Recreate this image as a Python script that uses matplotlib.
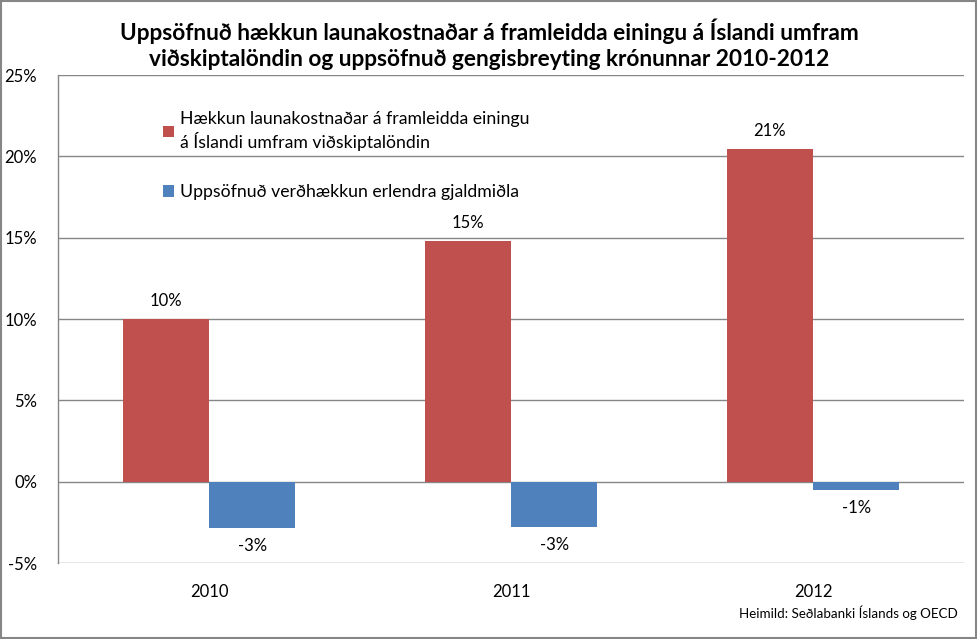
import matplotlib
matplotlib.use("Agg")
import matplotlib.pyplot as plt
from matplotlib.patches import Rectangle
import numpy as np

years = ["2010", "2011", "2012"]
labor_cost = [10.0, 14.8, 20.45]
currency = [-2.85, -2.8, -0.5]
labor_labels = ["10%", "15%", "21%"]
currency_labels = ["-3%", "-3%", "-1%"]
yticks = [-5, 0, 5, 10, 15, 20, 25]
ytick_labels = ["-5%", "0%", "5%", "10%", "15%", "20%", "25%"]

title = ("Uppsöfnuð hækkun launakostnaðar á framleidda einingu á Íslandi umfram\n"
         "viðskiptalöndin og uppsöfnuð gengisbreyting krónunnar 2010-2012")
label_red = "Hækkun launakostnaðar á framleidda einingu\ná Íslandi umfram viðskiptalöndin"
label_blue = "Uppsöfnuð verðhækkun erlendra gjaldmiðla"
source = "Heimild: Seðlabanki Íslands og OECD"

RED = "#C0504D"
BLUE = "#4F81BD"
GRID = "#868686"

plt.rcParams["font.family"] = ["Lato", "DejaVu Sans"]

fig = plt.figure(figsize=(9.78, 6.39), dpi=100)
ax = fig.add_axes([58/978, 1-563/639, (964-58)/978, (563-75)/639])

x = np.arange(len(years))
w = 1/3.5
b1 = ax.bar(x - w/2, labor_cost, w, color=RED, label=label_red, zorder=3)
b2 = ax.bar(x + w/2, currency, w, color=BLUE, label=label_blue, zorder=3)

for xi, v, t in zip(x - w/2, labor_cost, labor_labels):
    ax.annotate(t, (xi, v), xytext=(0, 7), textcoords="offset points",
                ha="center", va="bottom", fontsize=12, color="black")
for xi, v, t in zip(x + w/2, currency, currency_labels):
    ax.annotate(t, (xi, v), xytext=(0, -7), textcoords="offset points",
                ha="center", va="top", fontsize=12, color="black")

ax.set_xlim(-0.5, 2.5)
ax.set_ylim(-5, 25)
ax.set_yticks(yticks)
ax.set_yticklabels(ytick_labels)
ax.set_xticks(x)
ax.set_xticklabels(years)
ax.tick_params(axis="both", length=0, labelsize=12, colors="black")
ax.tick_params(axis="y", pad=15)
ax.tick_params(axis="x", pad=15)
ax.grid(axis="y", color=GRID, linewidth=1, zorder=0)
for s in ["top", "right", "bottom"]:
    ax.spines[s].set_visible(False)
ax.spines["left"].set_color(GRID)
ax.spines["left"].set_linewidth(1)
ax.set_axisbelow(True)

leg = ax.legend(loc="upper left", bbox_to_anchor=(0.0986, 0.958), frameon=False,
                fontsize=12.7, handlelength=0.6, handleheight=0.6, handletextpad=0.35,
                labelspacing=1.85)
for t in leg.get_texts():
    t.set_linespacing(1.32)

fig.text(0.5, 1-18/639, title, ha="center", va="top", fontsize=16.3,
         fontweight="bold", linespacing=1.3)
fig.text(958/978, 1-613/639, source, ha="right", va="center", fontsize=9.6)

fig.patches.append(Rectangle((0.001, 0.002), 0.997, 0.996, transform=fig.transFigure,
                             fill=False, edgecolor=GRID, linewidth=1.5))

fig.savefig("out.png", dpi=100)
